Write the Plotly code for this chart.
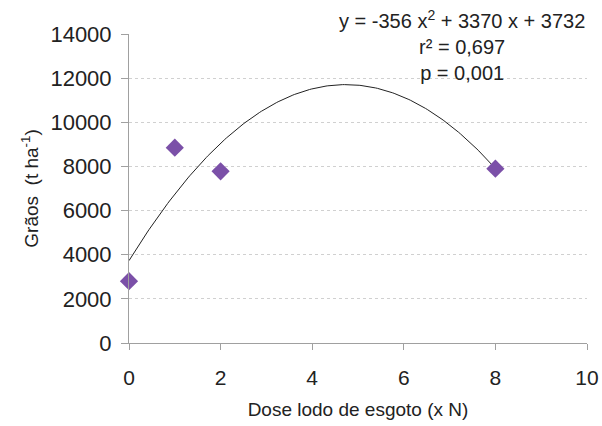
import numpy as np
import plotly.graph_objects as go

dose = [0, 1, 2, 8]
graos = [2800, 8850, 7780, 7900]
coef_a, coef_b, coef_c = -356, 3370, 3732
x_ticks = [0, 2, 4, 6, 8, 10]
y_ticks = [0, 2000, 4000, 6000, 8000, 10000, 12000, 14000]
y_labels = [str(v) for v in y_ticks]

xc = np.linspace(min(dose), max(dose), 200)
yc = coef_a * xc**2 + coef_b * xc + coef_c

fig = go.Figure()
fig.add_trace(go.Scatter(x=xc, y=yc, mode="lines",
                         line=dict(color="#222222", width=1), hoverinfo="skip"))
fig.add_trace(go.Scatter(x=dose, y=graos, mode="markers",
                         marker=dict(symbol="diamond", size=14, color="#7B50A8",
                                     line=dict(width=0)), cliponaxis=False))

font = "Liberation Sans, Arial, sans-serif"
fig.update_layout(
    width=602, height=426,
    margin=dict(l=129, r=15, t=34, b=83),
    plot_bgcolor="white", paper_bgcolor="white",
    showlegend=False,
    font=dict(family=font, color="#222222"),
    xaxis=dict(range=[0, 10], tickvals=x_ticks, showgrid=False, zeroline=False,
               automargin=False,
               showline=True, linecolor="#A0A0A0", linewidth=1,
               ticks="outside", ticklen=6, tickcolor="#A0A0A0",
               ticklabelstandoff=10,
               tickfont=dict(size=21, family=font, color="#222222"),
               title=dict(text="Dose lodo de esgoto (x N)", standoff=14,
                          font=dict(size=19, family=font, color="#222222"))),
    yaxis=dict(range=[0, 14000], tickvals=y_ticks, ticktext=y_labels, showgrid=True,
               gridcolor="#D0D0D0", griddash="dot", gridwidth=1, zeroline=False,
               automargin=False,
               showline=True, linecolor="#A0A0A0", linewidth=1,
               ticks="outside", ticklen=7, tickcolor="#A0A0A0",
               ticklabelstandoff=5,
               tickfont=dict(size=22, family=font, color="#222222"),
               title=dict(text="Grãos  (t ha<sup>-1</sup>)", standoff=6,
                          font=dict(size=19, family=font, color="#222222"))),
    annotations=[dict(
        text=f"y = {coef_a} x<sup>2</sup> + {coef_b} x + {coef_c}<br>r² = 0,697<br>p = 0,001",
        x=0.727, y=1.095, xref="paper", yref="paper", xanchor="center", yanchor="top",
        showarrow=False, align="center",
        font=dict(size=20, family=font, color="#222222"))],
)
fig.write_html("out.html",
               config={"displayModeBar": False},
               post_script="document.body.style.margin='0';document.body.style.overflow='hidden';")
